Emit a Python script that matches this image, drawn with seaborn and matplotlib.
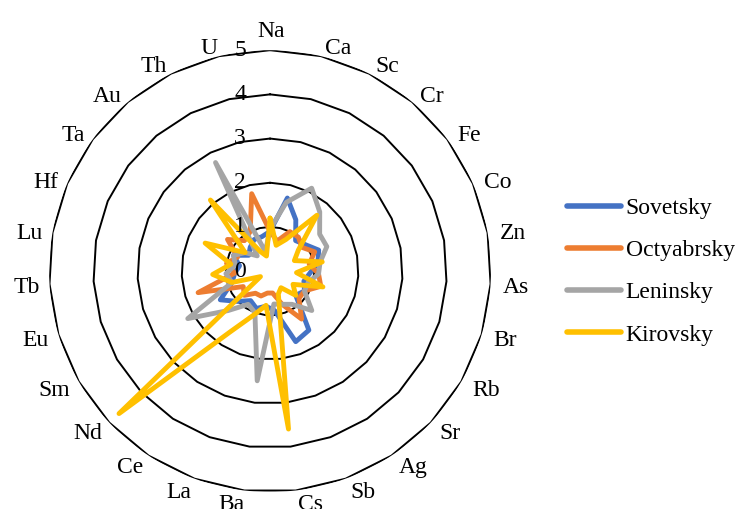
import numpy as np
import pandas as pd
import matplotlib
matplotlib.use('Agg')
import matplotlib.pyplot as plt
import seaborn as sns
from matplotlib.transforms import offset_copy

elements = ['Na', 'Ca', 'Sc', 'Cr', 'Fe', 'Co', 'Zn', 'As', 'Br', 'Rb', 'Sr', 'Ag', 'Sb', 'Cs',
            'Ba', 'La', 'Ce', 'Nd', 'Sm', 'Eu', 'Tb', 'Lu', 'Hf', 'Ta', 'Au', 'Th', 'U']

sovetsky = [0.9, 1.7, 1.3, 0.9, 1.0, 1.2, 1.1, 0.9, 0.8, 0.9, 0.8, 1.6, 1.7, 0.9,
            0.8, 0.9, 0.8, 1.0, 1.3, 0.9, 0.8, 0.7, 0.9, 0.6, 0.7, 0.8, 0.8]
octyabrsky = [0.9, 0.7, 1.0, 1.0, 0.9, 1.1, 0.9, 1.1, 1.2, 0.9, 0.9, 1.3, 0.8, 0.5,
              0.5, 0.6, 0.6, 0.8, 0.7, 1.7, 0.8, 1.0, 0.8, 1.2, 0.9, 1.0, 1.8]
leninsky = [0.95, 1.6, 2.1, 1.75, 1.4, 1.4, 1.15, 1.1, 0.9, 0.9, 1.3, 0.9, 0.8, 0.75,
            2.5, 1.0, 0.9, 1.3, 2.15, 0.9, 1.0, 0.8, 0.9, 0.7, 0.45, 2.75, 0.45]
kirovsky = [1.2, 0.6, 0.8, 1.65, 0.8, 0.6, 1.2, 0.6, 1.25, 0.6, 0.8, 0.45, 0.55, 3.6,
            0.78, 1.05, 1.65, 4.7, 0.25, 0.9, 1.3, 0.9, 1.6, 0.7, 2.1, 0.5, 0.35]

districts = ['Sovetsky', 'Octyabrsky', 'Leninsky', 'Kirovsky']
colors = ['#4472C4', '#ED7D31', '#A5A5A5', '#FFC000']
rings = [1, 2, 3, 4, 5]
ring_labels = ['0', '1', '2', '3', '4', '5']

sns.set_style('white')
plt.rcParams['font.family'] = ['Liberation Serif', 'DejaVu Serif']
plt.rcParams['text.color'] = 'black'

n = len(elements)
angles = np.linspace(0, 2 * np.pi, n, endpoint=False)
closed = np.append(angles, 2 * np.pi)

# long table, first point repeated to close each loop
rows = []
for name, vals in zip(districts, [sovetsky, octyabrsky, leninsky, kirovsky]):
    for a, v in zip(closed, vals + vals[:1]):
        rows.append({'theta': a, 'value': v, 'district': name})
df = pd.DataFrame(rows)

fig = plt.figure(figsize=(7.38, 5.09), dpi=100)
ax = fig.add_axes([0.0664, 0.0334, 0.599, 0.868], projection='polar')
ax.set_theta_zero_location('N')
ax.set_theta_direction(-1)

# polygon grid like Excel radar
for r in rings:
    ax.plot(closed, [r] * (n + 1), color='black', lw=1.4, zorder=1)

sns.lineplot(data=df, x='theta', y='value', hue='district', palette=colors,
             sort=False, estimator=None, linewidth=3.5, ax=ax, zorder=3)

ax.set_ylim(0, 5)
ax.set_xticks([])
ax.set_yticks([])
ax.grid(False)
ax.spines['polar'].set_visible(False)
ax.set_xlabel('')
ax.set_ylabel('')

# category labels, Excel-style alignment around the outside
lab_trans = offset_copy(ax.transData, fig=fig, x=1, y=-3, units='dots')
for a, lab in zip(angles, elements):
    s = np.sin(a)
    if s > 0.05:
        ha = 'left'
    elif s < -0.05:
        ha = 'right'
    else:
        ha = 'center'
    va = 'bottom' if np.cos(a) > 0.99 else 'center'
    ax.text(a, 5.25, lab, ha=ha, va=va, fontsize=17, color='black', transform=lab_trans)

trans = offset_copy(ax.transData, fig=fig, x=-30, y=0, units='dots')
for v, lab in enumerate(ring_labels):
    ax.text(0, v, lab, transform=trans, ha='center', va='center', fontsize=17, color='black')

handles, labels = ax.get_legend_handles_labels()
ax.get_legend().remove()
leg = fig.legend(handles, labels, loc='center left', bbox_to_anchor=(0.768, 0.4666),
                 frameon=False, fontsize=17, handlelength=2.3, handletextpad=0.2,
                 labelspacing=0.88, borderpad=0, borderaxespad=0)
for t in leg.get_texts():
    t.set_color('black')
for h in leg.get_lines():
    h.set_linewidth(4)

fig.savefig('out.png', dpi=100)
